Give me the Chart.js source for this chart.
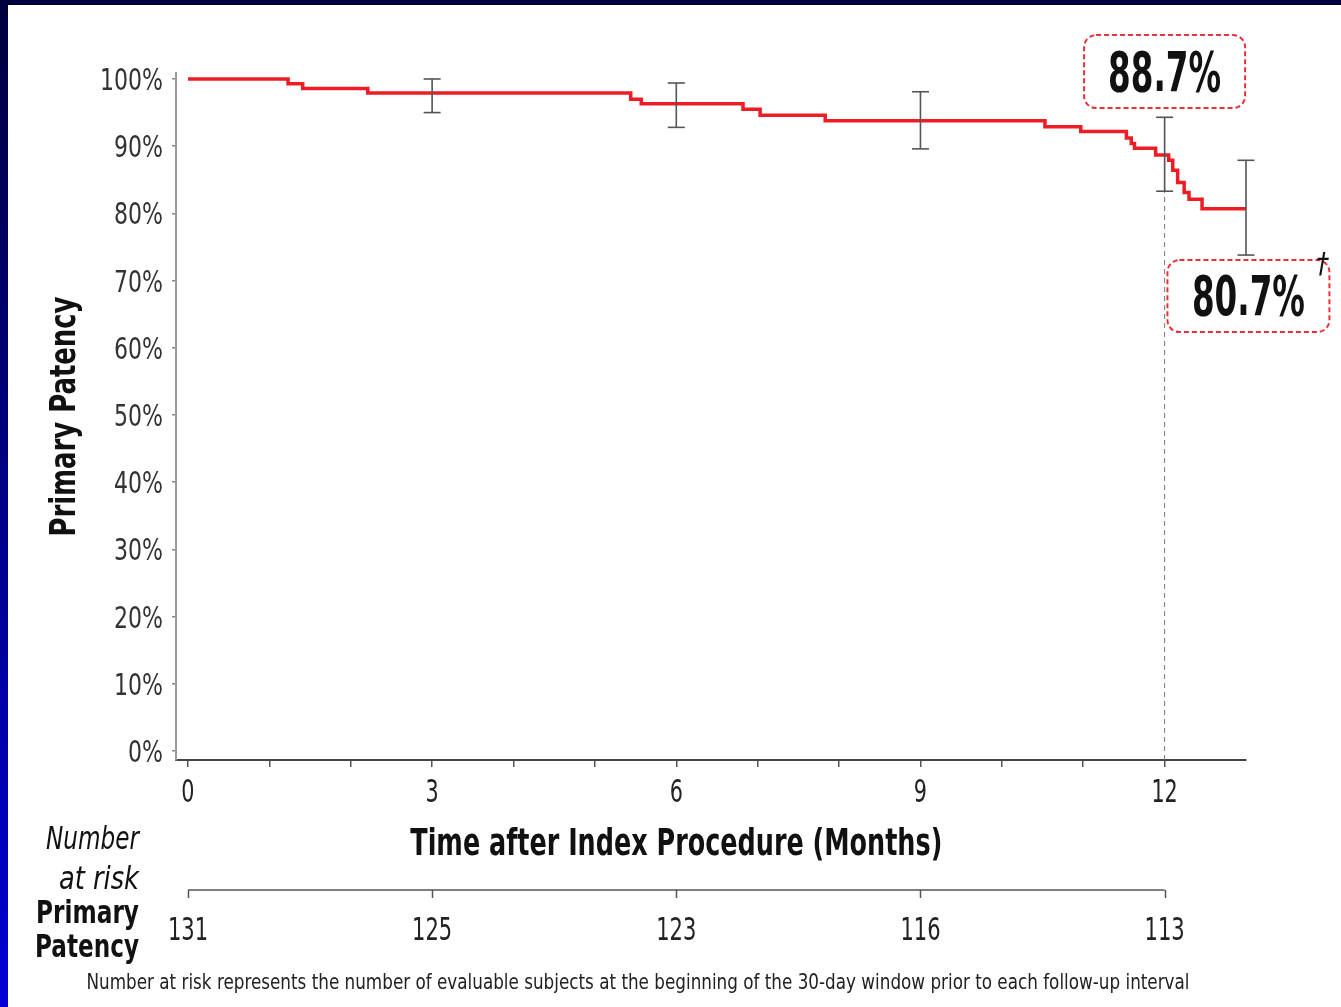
<!DOCTYPE html>
<html>
<head>
<meta charset="utf-8">
<title>Primary Patency</title>
<style>
  html, body { margin: 0; padding: 0; background: #fff; overflow: hidden; }
  canvas { display: block; }
</style>
</head>
<body>
<canvas id="chart-patency" width="1341" height="1007"></canvas>
<script src="https://cdn.jsdelivr.net/npm/chart.js@4.4.1/dist/chart.umd.min.js"></script>
<script>
// Kaplan-Meier steps (month, patency %), value holds from that month on
const KM_MONTHS  = [0, 1.23, 1.41, 2.21, 5.44, 5.57, 6.82, 7.03, 7.83, 10.53, 10.97, 11.53, 11.59, 11.63, 11.89, 12.05, 12.10, 12.16, 12.24, 12.30, 12.46, 13.0];
const KM_PATENCY = [100, 99.3, 98.6, 97.9, 97.0, 96.3, 95.5, 94.6, 93.8, 92.9, 92.2, 91.2, 90.4, 89.7, 88.7, 87.9, 86.4, 84.6, 83.1, 82.1, 80.7, 80.7];

// 95% CI bars
const CI_MONTHS = [3, 6, 9, 12, 13];
const CI_LOWER  = [95.0, 92.8, 89.6, 83.3, 73.8];
const CI_UPPER  = [100.0, 99.4, 98.1, 94.3, 87.9];

const X_TICKS = [0, 1, 2, 3, 4, 5, 6, 7, 8, 9, 10, 11, 12];
const X_LABELED = [0, 3, 6, 9, 12];
const Y_TICKS = [0, 10, 20, 30, 40, 50, 60, 70, 80, 90, 100];

const RISK_MONTHS = [0, 3, 6, 9, 12];
const RISK_COUNTS = [131, 125, 123, 116, 113];

const CALLOUT_TEXT = ["88.7%", "80.7%"];

const RED = "#ee1c25";
const BOX_RED = "#e8303a";

function pickFamily(candidates, fallback) {
  const c = document.createElement("canvas").getContext("2d");
  const probe = "Primary Patency 0123456789%";
  c.font = "40px monospace";
  const base = c.measureText(probe).width;
  for (const f of candidates) {
    c.font = `40px "${f}", monospace`;
    if (Math.abs(c.measureText(probe).width - base) > 0.5) return f;
  }
  return fallback;
}
const NARROW = pickFamily(["Liberation Sans Narrow", "DejaVu Sans Condensed", "Arial Narrow"], "Liberation Sans");

// the source font is very condensed: squeeze text horizontally, either to a fixed ink width or by a factor
function drawText(ctx, text, x, y, font, o = {}) {
  ctx.save();
  ctx.font = font;
  ctx.fillStyle = o.color || "#111";
  ctx.textBaseline = "alphabetic";
  ctx.textAlign = o.align || "center";
  const w = ctx.measureText(text).width;
  ctx.translate(x, y);
  if (o.rot) ctx.rotate(o.rot);
  ctx.scale(o.width ? o.width / w : (o.squeeze || 1), 1);
  ctx.fillText(text, 0, 0);
  ctx.restore();
}

const framePlugin = {
  id: "frame",
  beforeDraw(chart) {
    const { ctx, width, height } = chart;
    ctx.save();
    ctx.fillStyle = "#fff";
    ctx.fillRect(0, 0, width, height);
    const g = ctx.createLinearGradient(0, 0, 0, height);
    g.addColorStop(0, "#00003c");
    g.addColorStop(1, "#0000d4");
    ctx.fillStyle = g;
    ctx.fillRect(0, 0, 8, height);
    ctx.fillStyle = "#00003e";
    ctx.fillRect(0, 0, width, 5);
    ctx.restore();
  }
};

const calloutPlugin = {
  id: "callouts",
  afterDatasetsDraw(chart, args, opts) {
    const { ctx, scales: { x, y } } = chart;
    opts.items.forEach((it) => {
      const cx = x.getPixelForValue(it.month), cy = y.getPixelForValue(it.pct);
      const left = cx - it.w / 2, top = cy - it.h / 2;
      ctx.save();
      ctx.strokeStyle = BOX_RED;
      ctx.lineWidth = 2;
      ctx.setLineDash([5, 3]);
      ctx.beginPath();
      ctx.roundRect(left, top, it.w, it.h, 12);
      ctx.stroke();
      ctx.restore();
      drawText(ctx, it.text, cx, cy + 19, `bold 55px "${NARROW}"`, { width: 113 });
      if (it.dagger) drawText(ctx, "\u2020", left + it.w - 7, top + 13, `italic 28px "${NARROW}"`);
    });
  }
};

const textPlugin = {
  id: "texts",
  afterDraw(chart) {
    const { ctx, chartArea, scales: { x, y } } = chart;

    // tick labels at the scale's own tick positions
    y.ticks.forEach((t) => {
      drawText(ctx, t.value + "%", chartArea.left - 13, y.getPixelForValue(t.value) + 11, `31px "${NARROW}"`,
        { align: "right", squeeze: 0.79, color: "#333" });
    });
    x.ticks.forEach((t) => {
      if (!X_LABELED.includes(t.value)) return;
      drawText(ctx, String(t.value), x.getPixelForValue(t.value), 802, `32px "${NARROW}"`,
        { squeeze: 0.72, color: "#222" });
    });

    const mid = (chartArea.top + chartArea.bottom) / 2;
    drawText(ctx, "Primary Patency", 75, mid, `bold 36px "${NARROW}"`, { width: 240, rot: -Math.PI / 2 });

    const x0 = x.getPixelForValue(RISK_MONTHS[0]);
    const x1 = x.getPixelForValue(RISK_MONTHS[RISK_MONTHS.length - 1]);
    drawText(ctx, "Time after Index Procedure (Months)", (x0 + x1) / 2, 855, `bold 38px "${NARROW}"`, { width: 532 });

    // number at risk table
    drawText(ctx, "Number", 139, 849, `italic 32px "${NARROW}"`, { align: "right", width: 93 });
    drawText(ctx, "at risk", 139, 889, `italic 32px "${NARROW}"`, { align: "right", width: 80 });
    drawText(ctx, "Primary", 139, 923, `bold 32px "${NARROW}"`, { align: "right", width: 103 });
    drawText(ctx, "Patency", 139, 957, `bold 32px "${NARROW}"`, { align: "right", width: 104 });

    ctx.save();
    ctx.strokeStyle = "#555";
    ctx.beginPath();
    ctx.moveTo(x0, 890);
    ctx.lineTo(x1, 890);
    RISK_MONTHS.forEach((m) => {
      const px = Math.round(x.getPixelForValue(m)) + 0.5;
      ctx.moveTo(px, 890);
      ctx.lineTo(px, 898);
    });
    ctx.lineWidth = 1.5;
    ctx.stroke();
    ctx.restore();
    RISK_MONTHS.forEach((m, i) => {
      drawText(ctx, String(RISK_COUNTS[i]), x.getPixelForValue(m), 940, `32px "${NARROW}"`, { squeeze: 0.73, color: "#222" });
    });

    drawText(ctx, "Number at risk represents the number of evaluable subjects at the beginning of the 30-day window prior to each follow-up interval",
      638, 989, `22px "${NARROW}"`, { width: 1103, color: "#222" });
  }
};

function buildCiData() {
  const pts = [];
  CI_MONTHS.forEach((m, i) => {
    pts.push({ x: m, y: CI_LOWER[i] }, { x: m, y: CI_UPPER[i] }, { x: m, y: null });
  });
  return pts;
}

function makeChart(ctx) {
  const yMin = -1.34, yMax = 100.89;
  Chart.defaults.font.family = NARROW;
  return new Chart(ctx, {
    type: "line",
    data: {
      datasets: [
        {
          label: "95% CI",
          data: buildCiData(),
          borderColor: "#555",
          borderWidth: 1.6,
          pointStyle: "line",
          pointRadius: 8.5,
          pointBorderWidth: 1.6,
          pointBorderColor: "#555",
          spanGaps: false,
          clip: false,
          order: 0
        },
        {
          label: "Primary Patency",
          data: KM_MONTHS.map((m, i) => ({ x: m, y: KM_PATENCY[i] })),
          stepped: "before",
          borderColor: RED,
          borderWidth: 3.5,
          pointRadius: 0,
          clip: false,
          order: 1
        },
        {
          label: "12 months",
          data: [{ x: 12, y: yMin }, { x: 12, y: CI_UPPER[3] }],
          borderColor: "#777",
          borderWidth: 1,
          borderDash: [5, 4],
          pointRadius: 0,
          order: 2
        }
      ]
    },
    options: {
      responsive: false,
      animation: false,
      devicePixelRatio: 1,
      layout: { padding: { left: 40, top: 73, right: 95, bottom: 199 } },
      plugins: {
        legend: { display: false },
        tooltip: { enabled: false },
        callouts: {
          items: [
            { month: 12, pct: 101.1, w: 161, h: 73, text: CALLOUT_TEXT[0] },
            { month: 13.03, pct: 67.7, w: 162, h: 72, text: CALLOUT_TEXT[1], dagger: true }
          ]
        }
      },
      scales: {
        x: {
          type: "linear",
          min: -0.147, max: 13,
          afterBuildTicks: (s) => { s.ticks = X_TICKS.map((v) => ({ value: v })); },
          afterFit: (s) => { s.height = 48; },
          ticks: { display: false, autoSkip: false, maxRotation: 0 },
          grid: { drawOnChartArea: false, tickLength: 7, color: "#555", lineWidth: 1.5 },
          border: { display: true, color: "#444", width: 2 }
        },
        y: {
          min: yMin, max: yMax,
          afterBuildTicks: (s) => { s.ticks = Y_TICKS.map((v) => ({ value: v })); },
          afterFit: (s) => { s.width = 136; },
          ticks: { display: false },
          grid: { drawOnChartArea: false, tickLength: 4, color: "#888", lineWidth: 1.5 },
          border: { display: true, color: "#999", width: 2 }
        }
      }
    },
    plugins: [framePlugin, calloutPlugin, textPlugin]
  });
}

makeChart(document.getElementById("chart-patency").getContext("2d"));
</script>
</body>
</html>
